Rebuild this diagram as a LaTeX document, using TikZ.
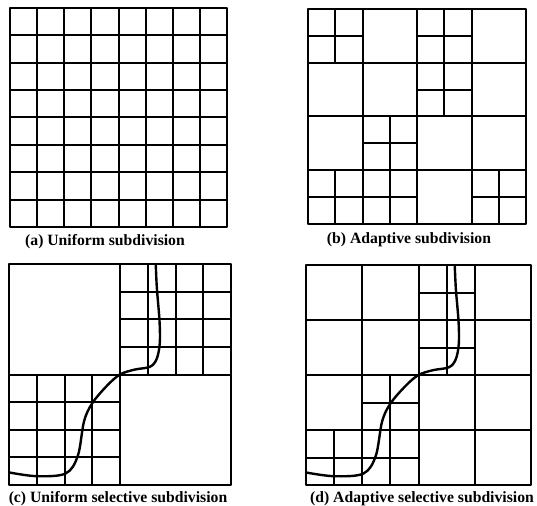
\documentclass[tikz,border=0pt]{standalone}
\usepackage{fontspec}
\setmainfont{Liberation Serif}
\tikzset{
  frameline/.style={line width=2.4pt, line join=round},
  gridline/.style={line width=2pt},
  curveline/.style={line width=2.4pt, line cap=round},
  caption/.style={font=\bfseries\fontsize{15.7}{18}\selectfont, anchor=base, inner sep=0pt},
}
\newcommand{\subcross}[2]{%
  \draw[gridline] ({(#1-0.5)/4},{(#2-1)/4}) -- ({(#1-0.5)/4},{#2/4});
  \draw[gridline] ({(#1-1)/4},{(#2-0.5)/4}) -- ({#1/4},{(#2-0.5)/4});
}
\newcommand{\thecurve}{%
  \draw[curveline] plot[smooth, tension=0.55] coordinates {(0.0,0.943) (0.124,0.96) (0.255,0.948) (0.31,0.868) (0.338,0.712) (0.375,0.63) (0.442,0.55) (0.5,0.5) (0.565,0.478) (0.635,0.465) (0.665,0.43) (0.679,0.36) (0.678,0.258) (0.666,0.108) (0.661,0.0)};
}
\begin{document}
\begin{tikzpicture}[x=1pt, y=-1pt]
\useasboundingbox[fill=white] (0,0) rectangle (537,505);

% (a) uniform subdivision
\begin{scope}[xshift=10pt, yshift=-8pt, x=217pt, y=-219pt]
  \foreach \i in {1,...,7} {
    \draw[gridline] (\i/8,0) -- (\i/8,1);
    \draw[gridline] (0,\i/8) -- (1,\i/8);
  }
  \draw[frameline] (0,0) rectangle (1,1);
\end{scope}

% (b) adaptive subdivision
\begin{scope}[xshift=308pt, yshift=-9pt, x=218pt, y=-215pt]
  \foreach \i in {1,2,3} {
    \draw[gridline] (\i/4,0) -- (\i/4,1);
    \draw[gridline] (0,\i/4) -- (1,\i/4);
  }
  \foreach \c/\r in {1/1,3/1,3/2,2/3,1/4,2/4,4/4} { \subcross{\c}{\r} }
  \draw[frameline] (0,0) rectangle (1,1);
\end{scope}

% (c) uniform selective subdivision
\begin{scope}[xshift=9pt, yshift=-264pt, x=222pt, y=-221pt]
  \draw[gridline] (0.5,0) -- (0.5,1);
  \draw[gridline] (0,0.5) -- (1,0.5);
  \foreach \i in {1,2,3} {
    \draw[gridline] ({0.5+\i/8},0) -- ({0.5+\i/8},0.5);
    \draw[gridline] (0.5,{\i/8}) -- (1,{\i/8});
    \draw[gridline] ({\i/8},0.5) -- ({\i/8},1);
    \draw[gridline] (0,{0.5+\i/8}) -- (0.5,{0.5+\i/8});
  }
  \thecurve
  \draw[frameline] (0,0) rectangle (1,1);
\end{scope}

% (d) adaptive selective subdivision
\begin{scope}[xshift=306pt, yshift=-265pt, x=225pt, y=-220pt]
  \foreach \i in {1,2,3} {
    \draw[gridline] (\i/4,0) -- (\i/4,1);
    \draw[gridline] (0,\i/4) -- (1,\i/4);
  }
  \foreach \c/\r in {3/1,3/2,2/3,1/4,2/4} { \subcross{\c}{\r} }
  \thecurve
  \draw[frameline] (0,0) rectangle (1,1);
\end{scope}

\node[caption] (capa) at (105,245) {(a) Uniform subdivision};
\node[caption] (capb) at (409,243) {(b) Adaptive subdivision};
\node[caption] (capc) at (118,502) {(c) Uniform selective subdivision};
\node[caption] (capd) at (422,502) {(d) Adaptive selective subdivision};
\end{tikzpicture}
\end{document}
